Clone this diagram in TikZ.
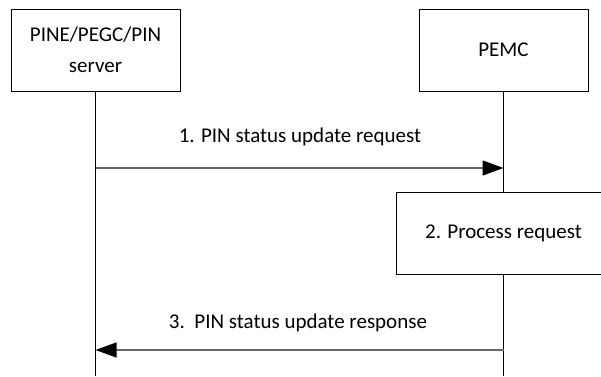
\documentclass[tikz,border=0pt]{standalone}
\usepackage{fontspec}
\setmainfont{Carlito}
\usetikzlibrary{arrows.meta}
\definecolor{msggray}{RGB}{105,105,105}
\tikzset{
  entity/.style={draw,line width=0.8pt,minimum width=169pt,minimum height=82pt,align=center,inner sep=0pt},
  msg/.style={draw=msggray,line width=1.3pt,-{Triangle[length=21pt,width=15pt,black]}},
  lifeline/.style={draw,line width=0.8pt}
}
\begin{document}
\begin{tikzpicture}[x=1pt,y=-1pt,font=\fontsize{21}{31}\selectfont]
\clip (0,0) rectangle (601,376);
\fill[white] (0,0) rectangle (601,376);
\node (pine) [entity] at (95.5,50) {PINE/PEGC/PIN\\server};
\node (pemc) [entity] at (503.5,50) {PEMC};
\node (proc) [entity,minimum width=214pt] at (503.5,233) {2. Process request};
% lifelines
\coordinate (pineend) at (95.5,376);
\coordinate (pemcend) at (503.5,376);
\draw [lifeline] (pine.south) -- (pineend);
\draw [lifeline] (pemc.south) -- (proc.north);
\draw [lifeline] (proc.south) -- (pemcend);
% messages
\coordinate (req1) at (95.5,168);
\coordinate (req2) at (503.5,168);
\coordinate (rsp1) at (503.5,350);
\coordinate (rsp2) at (95.5,350);
\draw [msg] (req1) -- (req2);
\node (reqlabel) at (300,137) {1. PIN status update request};
\draw [msg] (rsp1) -- (rsp2);
\node (rsplabel) at (298,323) {3.\ \ PIN status update response};
\end{tikzpicture}
\end{document}
